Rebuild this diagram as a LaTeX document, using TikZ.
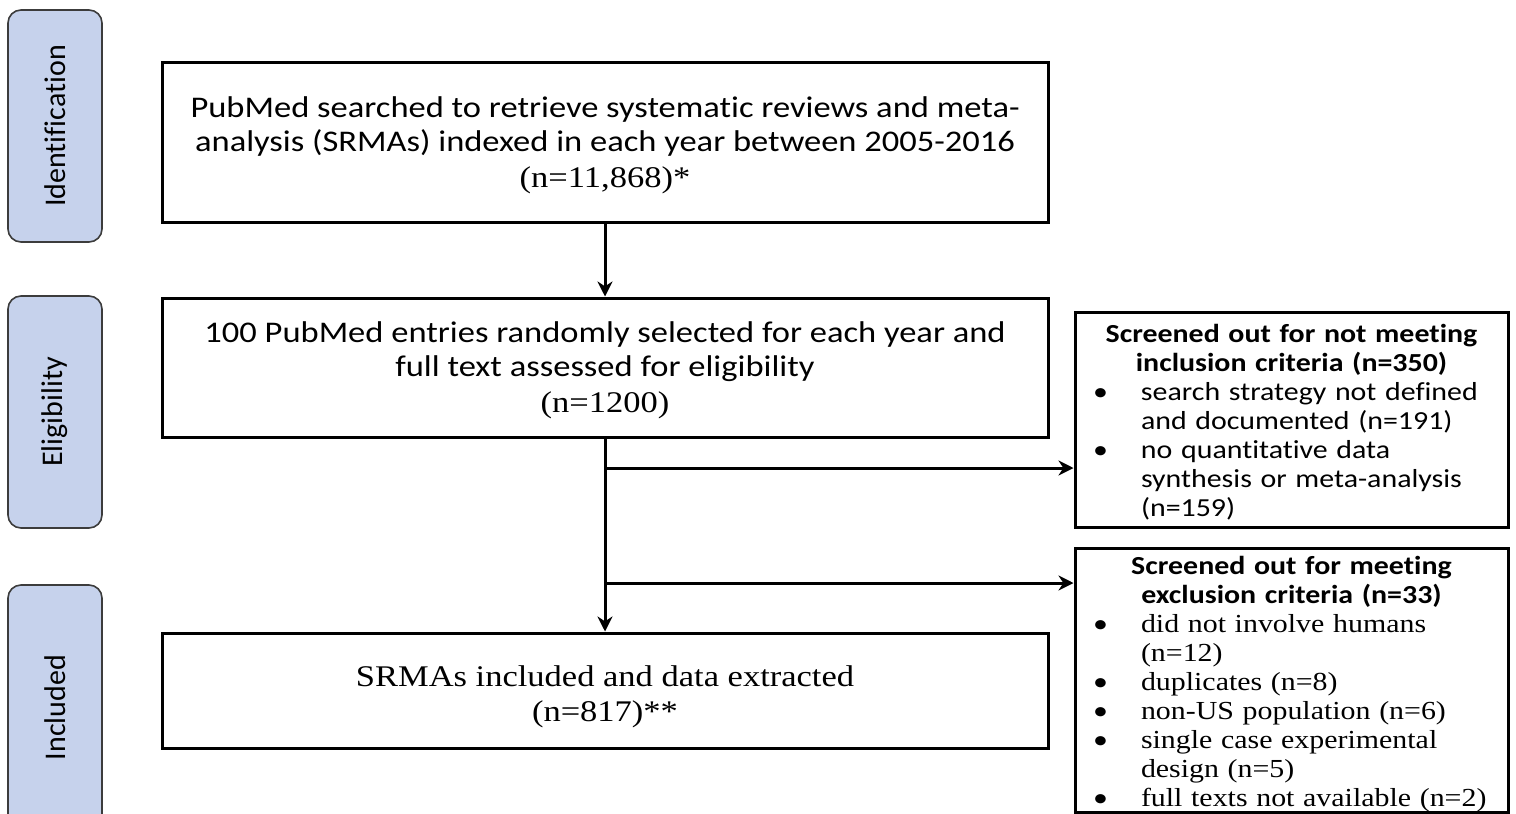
\documentclass[tikz,border=0pt]{standalone}
\usepackage{fontspec}
\setmainfont{Liberation Serif}[FakeStretch=1.15]
\newfontfamily\calibfont{Carlito}[FakeStretch=1.15, Ligatures=NoCommon]
\newfontfamily\calibplain{Carlito}[Ligatures=NoCommon]
\usetikzlibrary{arrows.meta}
\definecolor{stagefill}{RGB}{198,210,236}
\definecolor{stageline}{RGB}{60,60,60}
\newcommand{\bul}{\makebox[66pt][l]{\hspace{18pt}\textbullet}}
\newcommand{\ind}{\hspace*{66pt}}
\newcommand{\hd}[1]{\makebox[\linewidth][c]{\bfseries #1}}
\begin{document}
\begin{tikzpicture}[x=1pt,y=-1pt,
  stage/.style={draw=stageline, fill=stagefill, line width=1.6pt, rounded corners=13pt,
    rotate=90, minimum height=94pt, inner sep=0pt,
    font=\calibplain\fontsize{30}{34}\selectfont},
  mainbox/.style={draw, line width=3pt, minimum width=886pt, align=center, inner sep=0pt,
    font=\calibfont\fontsize{30}{34}\selectfont},
  sidebox/.style={draw, line width=3pt, minimum width=433pt, text width=433pt, inner sep=0pt,
    align=left, font=\calibfont\fontsize{26}{29}\selectfont},
  arr/.style={line width=3pt, -{Stealth[length=15pt,width=15pt]}}]
\useasboundingbox (0,0) rectangle (1516,814);
\clip (0,0) rectangle (1516,814);
\node[stage, minimum width=232pt] (sid) at (55,126) {Identification};
\node[stage, minimum width=232pt] (sel) at (55,412) {Eligibility};
\node[stage, minimum width=245pt] (sin) at (55,707.5) {Included};
\node[mainbox, minimum height=160pt] (b1) at (605,142)
  {\rule{0pt}{27pt}PubMed searched to retrieve systematic reviews and meta-\\
   analysis (SRMAs) indexed in each year between 2005-2016\\[2pt]
   {\rmfamily (n=11,868)*}};
\node[mainbox, minimum height=139pt] (b2) at (605,367.5)
  {\rule{0pt}{26pt}100 PubMed entries randomly selected for each year and\\
   full text assessed for eligibility\\[2pt]
   {\rmfamily (n=1200)}};
\node[mainbox, minimum height=115pt, font=\rmfamily\fontsize{30}{35}\selectfont] (b3) at (605,690.5)
  {\rule{0pt}{33pt}SRMAs included and data extracted\\ (n=817)**};
\node[sidebox, minimum height=215pt] (e1) at (1291.5,419.5)
  {\rule{0pt}{24pt}\hd{Screened out for not meeting}\\
   \hd{inclusion criteria (n=350)}\\
   \bul search strategy not defined\\
   \ind and documented (n=191)\\
   \bul no quantitative data\\
   \ind synthesis or meta-analysis\\
   \ind (n=159)};
\node[sidebox, minimum height=264pt] (e2) at (1291.5,680)
  {\rule{0pt}{26pt}\hd{Screened out for meeting}\\
   \hd{exclusion criteria (n=33)}\\
   \bul{\rmfamily did not involve humans}\\
   \ind{\rmfamily (n=12)}\\
   \bul{\rmfamily duplicates (n=8)}\\
   \bul{\rmfamily non-US population (n=6)}\\
   \bul{\rmfamily single case experimental}\\
   \ind{\rmfamily design (n=5)}\\
   \bul{\rmfamily full texts not available (n=2)}};
\coordinate (j1) at (605,468);
\coordinate (j2) at (605,583);
\draw[arr] (b1) -- (b2);
\draw[arr] (b2) -- (b3);
\draw[arr] (j1) -- (j1 -| e1.west);
\draw[arr] (j2) -- (j2 -| e2.west);
\end{tikzpicture}
\end{document}
